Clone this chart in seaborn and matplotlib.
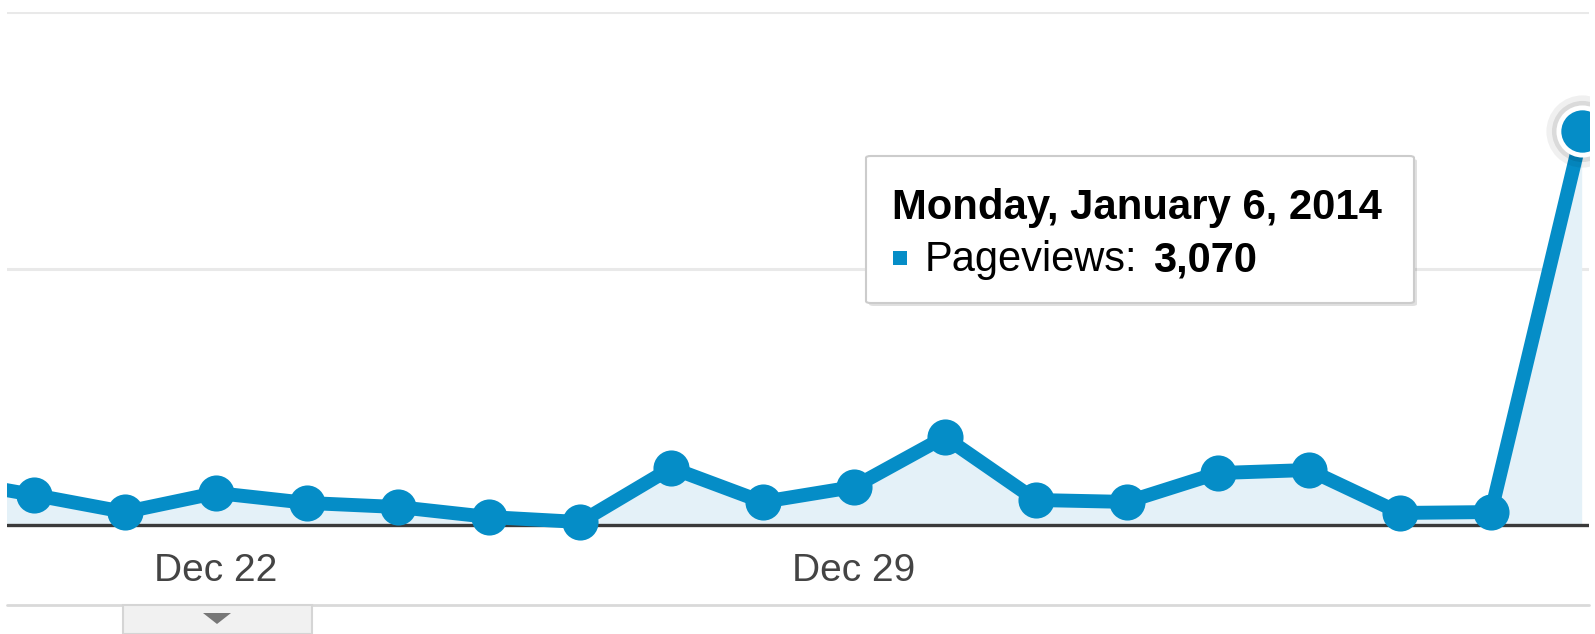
import matplotlib
matplotlib.use("Agg")
import matplotlib.pyplot as plt
from matplotlib.patches import FancyBboxPatch, Rectangle, Polygon
import seaborn as sns
import pandas as pd

# daily pageviews, Dec 19 2013 - Jan 6 2014 (Dec 19 only partly visible)
dates = pd.date_range("2013-12-19", "2014-01-06", freq="D")
pageviews = [360, 234, 101, 250, 172, 140, 62, 23, 445, 180, 296, 686,
             195, 180, 405, 429, 94, 101, 3070]
tick_dates = ["2013-12-22", "2013-12-29"]
tick_labels = ["Dec 22", "Dec 29"]
grid_values = [2000, 4000]
tooltip_title = "Monday, January 6, 2014"
tooltip_series = "Pageviews:"
tooltip_value = "3,070"

blue = "#058dc7"
df = pd.DataFrame({"date": dates, "pageviews": pageviews})

sns.set_theme(style="white")
plt.rcParams["font.family"] = ["Liberation Sans", "DejaVu Sans"]

W, H = 1595, 634
# y=0 sits at pixel 525, y=4000 at pixel 12; leave room below for markers
ymin = -200
bottom_px = 525 + (-ymin) * (525 - 12) / 4000
fig = plt.figure(figsize=(W / 100, H / 100), dpi=100)
ax = fig.add_axes([7 / W, 1 - bottom_px / H, (1589 - 7) / W, (bottom_px - 12) / H])

for g in grid_values:
    ax.axhline(g, color="#e9e9e9", lw=2.2, zorder=0)

ax.fill_between(df["date"], df["pageviews"], 0, color="#e4f1f8", lw=0, zorder=1)
ax.axhline(0, color="#3a3a3a", lw=2.4, zorder=2)
sns.lineplot(data=df, x="date", y="pageviews", ax=ax, color=blue, lw=10,
             marker="o", markersize=26, markeredgewidth=0, zorder=3)

# highlighted last point
last = df.iloc[-1]
ax.plot([last["date"]], [last["pageviews"]], "o", ms=52, color="#000000",
        alpha=0.06, mew=0, zorder=4)
ax.plot([last["date"]], [last["pageviews"]], "o", ms=44, color="#000000",
        alpha=0.09, mew=0, zorder=4)
ax.plot([last["date"]], [last["pageviews"]], "o", ms=34, color=blue,
        mec="white", mew=3.5, zorder=5)

ax.set_xlim(dates[1] - pd.Timedelta(days=0.296), dates[-1] + pd.Timedelta(days=0.075))
ax.set_ylim(ymin, 4000)
ax.set_xticks(pd.to_datetime(tick_dates))
ax.set_xticklabels(tick_labels, fontsize=28, color="#444444")
ax.tick_params(axis="x", length=0, pad=1.5)
ax.set_yticks([])
ax.set_xlabel("")
ax.set_ylabel("")
ax.grid(False)
for s in ax.spines.values():
    s.set_visible(False)

# tooltip
def px(x, y):
    return x / W, 1 - y / H

shadow = FancyBboxPatch(px(869, 306), 548 / W, 147 / H,
                        boxstyle="round,pad=0,rounding_size=0.003",
                        transform=fig.transFigure, fc="#000000", alpha=0.12,
                        lw=0, zorder=9)
box = FancyBboxPatch(px(866, 303), 548 / W, 147 / H,
                     boxstyle="round,pad=0,rounding_size=0.003",
                     transform=fig.transFigure, fc="white", ec="#cccccc",
                     lw=1.5, zorder=10)
fig.patches.extend([shadow, box])
fig.text(*px(892, 219), tooltip_title, fontsize=30.2, fontweight="bold",
         color="black", va="baseline", zorder=11)
fig.patches.append(Rectangle(px(893, 265), 14 / W, 14 / H,
                             transform=fig.transFigure, fc=blue, lw=0, zorder=11))
fig.text(*px(925, 271), tooltip_series, fontsize=30, color="black",
         va="baseline", zorder=11)
fig.text(*px(1153, 271), tooltip_value, fontsize=30, fontweight="bold",
         color="black", va="baseline", zorder=11)

# bottom divider and tab
fig.add_artist(plt.Line2D([7 / W, 1589 / W], [1 - 605 / H] * 2,
                          color="#d9d9d9", lw=2, transform=fig.transFigure))
fig.patches.append(Rectangle(px(123, 634), (312 - 123) / W, 29 / H,
                             transform=fig.transFigure, fc="#f1f1f1",
                             ec="#d5d5d5", lw=1.5, zorder=5))
fig.patches.append(Polygon([px(203, 613), px(231, 613), px(217, 624)],
                           closed=True, transform=fig.transFigure,
                           fc="#777777", lw=0, zorder=6))

fig.savefig("out.png", dpi=100)
